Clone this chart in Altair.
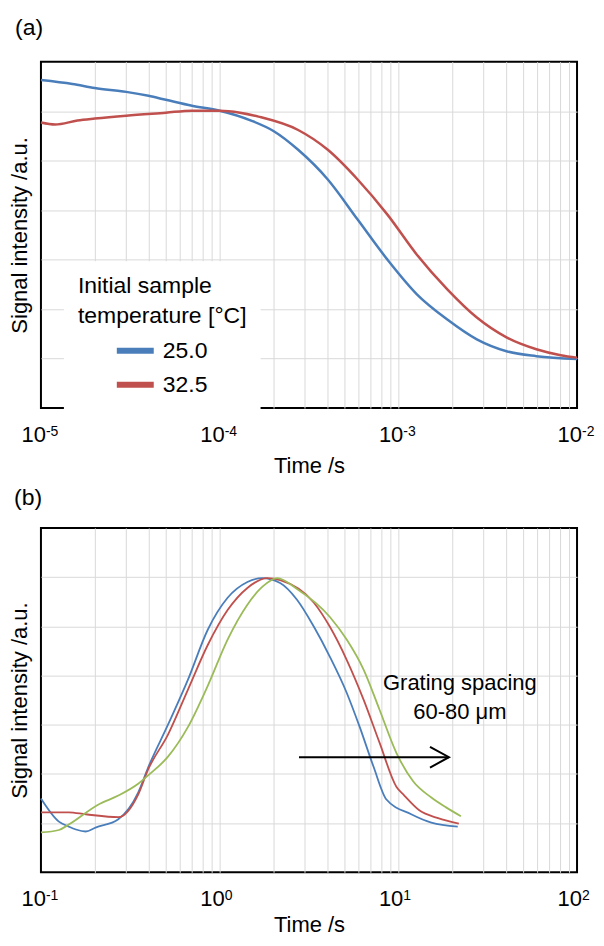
import altair as alt
import pandas as pd

FONT = "Liberation Sans"
W = 537
H1 = 347
H2 = 345

# ---------------- Panel (a) data ----------------
a_blue_t = [1e-5, 1.5e-5, 2e-5, 3e-5, 4e-5, 5e-5, 7e-5, 1e-4, 1.5e-4, 2e-4, 2.75e-4,
            4.03e-4, 5.92e-4, 8.69e-4, 1.27e-3, 1.88e-3, 2.75e-3, 4.03e-3, 5.92e-3, 1e-2]
a_blue_v = [6.63, 6.55, 6.47, 6.39, 6.31, 6.23, 6.11, 6.01, 5.81, 5.60, 5.22,
            4.62, 3.81, 3.00, 2.30, 1.79, 1.39, 1.15, 1.05, 0.99]
a_red_t = [1e-5, 1.2e-5, 1.6e-5, 2e-5, 3e-5, 5e-5, 7e-5, 1e-4, 1.3e-4, 1.65e-4, 2.75e-4,
           4.03e-4, 5.92e-4, 8.69e-4, 1.27e-3, 1.88e-3, 2.75e-3, 4.03e-3, 5.92e-3, 8.1e-3, 1e-2]
a_red_v = [5.77, 5.73, 5.81, 5.85, 5.91, 5.97, 6.01, 6.01, 5.97, 5.89, 5.62,
           5.22, 4.62, 3.91, 3.10, 2.40, 1.83, 1.43, 1.19, 1.07, 1.02]
a_series = ["25.0", "32.5"]
a_colors = ["#4a7ebb", "#c0504d"]
a_ticks = [1e-5, 1e-4, 1e-3, 1e-2]
a_exps = ["-5", "-4", "-3", "-2"]

# ---------------- Panel (b) data ----------------
b_blue_t = [0.1, 0.126, 0.143, 0.157, 0.178, 0.202, 0.271, 0.35, 0.398, 0.514, 0.664, 0.858,
            1.108, 1.43, 1.73, 2.18, 2.71, 3.37, 4.14, 5.14, 6.07, 7.26, 8.58, 11.8, 15.3, 21.5]
b_blue_v = [1.50, 1.03, 0.93, 0.87, 0.83, 0.91, 1.08, 1.62, 2.13, 3.00, 3.91, 4.93,
            5.58, 5.90, 5.98, 5.88, 5.54, 4.99, 4.38, 3.65, 2.96, 2.15, 1.48, 1.18, 1.01, 0.93]
b_red_t = [0.1, 0.143, 0.178, 0.271, 0.35, 0.398, 0.514, 0.664, 0.858, 1.108, 1.43, 1.85,
           2.18, 3.37, 4.14, 5.14, 6.39, 7.84, 9.75, 10.8, 13.1, 16.7, 21.8]
b_red_v = [1.22, 1.22, 1.18, 1.12, 1.58, 2.09, 2.80, 3.71, 4.62, 5.33, 5.78, 5.98,
           5.94, 5.48, 4.99, 4.32, 3.51, 2.64, 1.74, 1.56, 1.26, 1.10, 0.99]
b_green_t = [0.1, 0.126, 0.143, 0.21, 0.271, 0.35, 0.398, 0.514, 0.664, 0.858, 1.108, 1.43,
             1.73, 2.10, 2.71, 4.14, 5.14, 6.39, 7.84, 9.75, 12.1, 15.3, 18.5, 22.4]
b_green_v = [0.81, 0.86, 0.97, 1.38, 1.56, 1.80, 1.97, 2.35, 2.95, 3.79, 4.73, 5.44,
             5.80, 5.98, 5.76, 5.19, 4.73, 4.12, 3.31, 2.43, 1.85, 1.52, 1.32, 1.14]
b_series = ["60", "70", "80"]
b_colors = ["#4a7ebb", "#c0504d", "#9bbb59"]
b_ticks = [0.1, 1, 10, 100]
b_exps = ["-1", "0", "1", "2"]
arrow_t = [2.78, 19.2]
arrow_v = 2.34
note_lines = ["Grating spacing", "60-80 \u03bcm"]
note_t = 22.1
note_v = [3.85, 3.25]


def grid_values(e0, e1):
    # minor + major log grid positions inside the frame (edges are drawn by the frame)
    vals = [k * 10.0 ** e for e in range(e0, e1) for k in range(1, 10)]
    return vals[1:]


def x_axis(vals, pad):
    return alt.Axis(values=vals, labels=False, ticks=False, domain=False, grid=True,
                    gridColor="#d9d9d9", gridWidth=1, title="Time /s", titleFont=FONT,
                    titleFontSize=22, titleFontWeight="normal", titleColor="black",
                    titlePadding=pad)


y_axis = alt.Axis(values=[1, 2, 3, 4, 5, 6], labels=False, ticks=False, domain=False,
                  grid=True, gridColor="#d9d9d9", gridWidth=1,
                  title="Signal intensity /a.u.", titleFont=FONT, titleFontSize=22,
                  titleFontWeight="normal", titleColor="black", titlePadding=9)


def tick_layers(ticks, exps, h, xs, xax):
    d = pd.DataFrame({"t": ticks, "e": exps})
    base = alt.Chart(d).mark_text(align="right", baseline="alphabetic", dx=5, fontSize=22,
                                  font=FONT, color="black").encode(
        x=alt.X("t:Q", scale=xs, axis=xax), y=alt.value(h + 34), text=alt.value("10"))
    sup = alt.Chart(d).mark_text(align="left", baseline="alphabetic", dx=5, fontSize=14,
                                 font=FONT, color="black").encode(
        x=alt.X("t:Q", scale=xs, axis=xax), y=alt.value(h + 28), text="e:N")
    return base, sup


# ---------------- Panel (a) chart ----------------
dfa = pd.DataFrame({
    "t": a_blue_t + a_red_t,
    "v": a_blue_v + a_red_v,
    "s": [a_series[0]] * len(a_blue_t) + [a_series[1]] * len(a_red_t),
})
xa = alt.Scale(type="log", domain=[1e-5, 1e-2], nice=False)
xa_axis = x_axis(grid_values(-5, -2), 47)
lines_a = alt.Chart(dfa).mark_line(strokeWidth=2.5, interpolate="monotone").encode(
    x=alt.X("t:Q", scale=xa, axis=xa_axis),
    y=alt.Y("v:Q", scale=alt.Scale(domain=[0, 7], nice=False, zero=False), axis=y_axis),
    color=alt.Color("s:N", scale=alt.Scale(domain=a_series, range=a_colors),
                    legend=alt.Legend(
                        title=["Initial sample", "temperature [\u00b0C]"], orient="none",
                        legendX=23, legendY=200, fillColor="white", padding=14,
                        titleFont=FONT, titleFontSize=23, titleFontWeight="normal",
                        titleColor="black", titleLineHeight=30, titlePadding=1,
                        labelFont=FONT, labelFontSize=23, labelColor="black",
                        symbolType="stroke", symbolSize=1369, symbolStrokeWidth=6,
                        symbolOffset=36, labelOffset=6, rowPadding=-4)),
)
ta1, ta2 = tick_layers(a_ticks, a_exps, H1, xa, xa_axis)
lab_a = alt.Chart(pd.DataFrame({"l": ["(a)"]})).mark_text(
    align="left", baseline="middle", fontSize=23, font=FONT, color="black").encode(
    x=alt.value(-26), y=alt.value(-34), text="l:N")
top = alt.layer(lines_a, ta1, ta2, lab_a).properties(width=W, height=H1)

# ---------------- Panel (b) chart ----------------
dfb = pd.DataFrame({
    "t": b_blue_t + b_red_t + b_green_t,
    "v": b_blue_v + b_red_v + b_green_v,
    "s": [b_series[0]] * len(b_blue_t) + [b_series[1]] * len(b_red_t) + [b_series[2]] * len(b_green_t),
})
xb = alt.Scale(type="log", domain=[0.1, 100], nice=False)
yb = alt.Scale(domain=[0, 7], nice=False, zero=False)
xb_axis = x_axis(grid_values(-1, 2), 42)
lines_b = alt.Chart(dfb).mark_line(strokeWidth=1.8, interpolate="monotone").encode(
    x=alt.X("t:Q", scale=xb, axis=xb_axis),
    y=alt.Y("v:Q", scale=yb, axis=y_axis),
    color=alt.Color("s:N", scale=alt.Scale(domain=b_series, range=b_colors), legend=None),
)
arrow_df = pd.DataFrame({"t": [arrow_t[0]], "t2": [arrow_t[1]], "v": [arrow_v]})
arrow_line = alt.Chart(arrow_df).mark_rule(color="black", strokeWidth=2).encode(
    x=alt.X("t:Q", scale=xb, axis=xb_axis), x2="t2:Q",
    y=alt.Y("v:Q", scale=yb, axis=y_axis))
arrow_head = alt.Chart(arrow_df).mark_point(
    shape="M-1,-0.55L0,0L-1,0.55", filled=False, size=1444, color="black",
    strokeWidth=2, opacity=1).encode(
    x=alt.X("t2:Q", scale=xb, axis=xb_axis), y=alt.Y("v:Q", scale=yb, axis=y_axis))
note_df = pd.DataFrame({"t": [note_t, note_t], "v": note_v, "l": note_lines})
note = alt.Chart(note_df).mark_text(fontSize=22, font=FONT, color="black",
                                    align="center", baseline="middle").encode(
    x=alt.X("t:Q", scale=xb, axis=xb_axis), y=alt.Y("v:Q", scale=yb, axis=y_axis),
    text="l:N")
tb1, tb2 = tick_layers(b_ticks, b_exps, H2, xb, xb_axis)
lab_b = alt.Chart(pd.DataFrame({"l": ["(b)"]})).mark_text(
    align="left", baseline="middle", fontSize=23, font=FONT, color="black").encode(
    x=alt.value(-27), y=alt.value(-30), text="l:N")
bottom = alt.layer(lines_b, arrow_line, arrow_head, note, tb1, tb2, lab_b).properties(
    width=W, height=H2)

chart = alt.vconcat(top, bottom, spacing=9).resolve_scale(
    color="independent", x="independent", y="independent"
).properties(
    padding={"left": 0, "top": 7, "right": 0, "bottom": 0}
).configure(font=FONT).configure_view(stroke="black", strokeWidth=2)

chart.save("out.html", embed_options={"renderer": "svg", "actions": False})
